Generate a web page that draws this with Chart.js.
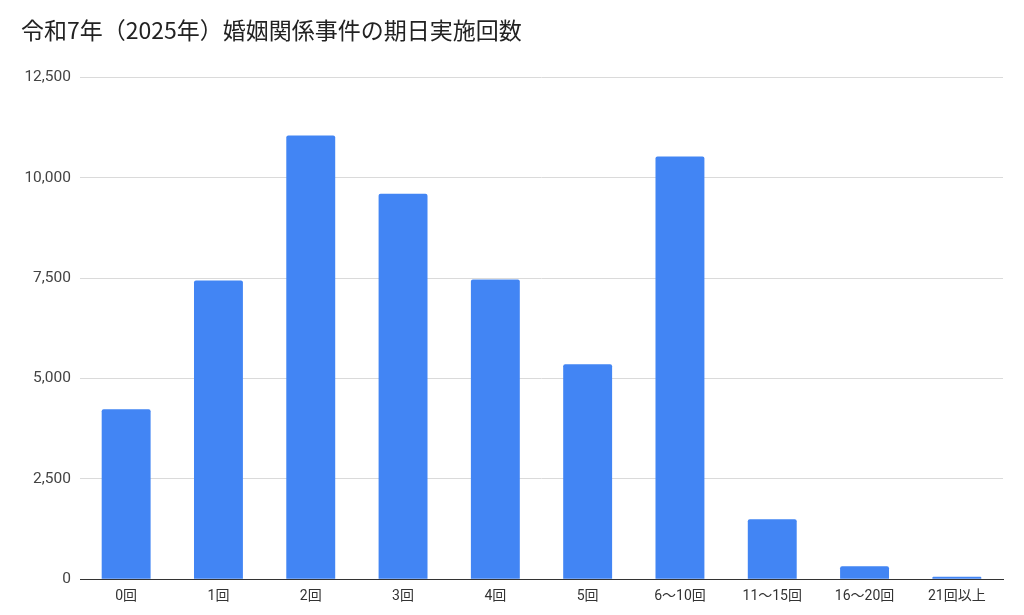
<!DOCTYPE html>
<html><head><meta charset="utf-8">
<script src="https://cdn.jsdelivr.net/npm/chart.js@4"></script>
<style>html,body{margin:0;padding:0;background:#fff;}canvas{display:block;}</style>
</head><body>
<canvas id="c" width="1024" height="615"></canvas>
<script>
const categories = ["0回","1回","2回","3回","4回","5回","6～10回","11～15回","16～20回","21回以上"];
const counts = [4235, 7445, 11055, 9605, 7470, 5355, 10535, 1495, 320, 60];
const yTicks = [0, 2500, 5000, 7500, 10000, 12500];
const titleText = "令和7年（2025年）婚姻関係事件の期日実施回数";
const FONT = 'Roboto, "Noto Sans CJK JP", sans-serif';

new Chart(document.getElementById('c'), {
  type: 'bar',
  data: { labels: categories, datasets: [{ data: counts, backgroundColor: '#4285F4', borderRadius: 2, borderSkipped: 'bottom', barPercentage: 0.53, categoryPercentage: 1 }] },
  options: {
    responsive: false, animation: false, devicePixelRatio: 1,
    layout: { padding: { top: 16, left: 21, right: 21, bottom: 9 } },
    plugins: {
      legend: { display: false }, tooltip: { enabled: false },
      title: { display: true, text: titleText, align: 'start', color: '#222', font: { family: '"Noto Sans CJK JP", sans-serif', size: 23, weight: 'normal' }, padding: { top: 0, bottom: 34 } }
    },
    scales: {
      x: {
        grid: { display: false },
        border: { display: true, color: '#333', width: 1 },
        ticks: { color: '#333', font: { family: FONT, size: 14 }, padding: 1, maxRotation: 0 }
      },
      y: {
        min: 0, max: 12500,
        afterBuildTicks: ax => { ax.ticks = yTicks.map(v => ({ value: v })); },
        afterFit: ax => { ax.width = 59; },
        border: { display: false },
        grid: { color: '#dadada', drawTicks: false },
        ticks: { color: '#444', font: { family: FONT, size: 15.5 }, padding: 9, callback: v => v.toLocaleString('en-US') }
      }
    }
  }
});
</script>
</body></html>
